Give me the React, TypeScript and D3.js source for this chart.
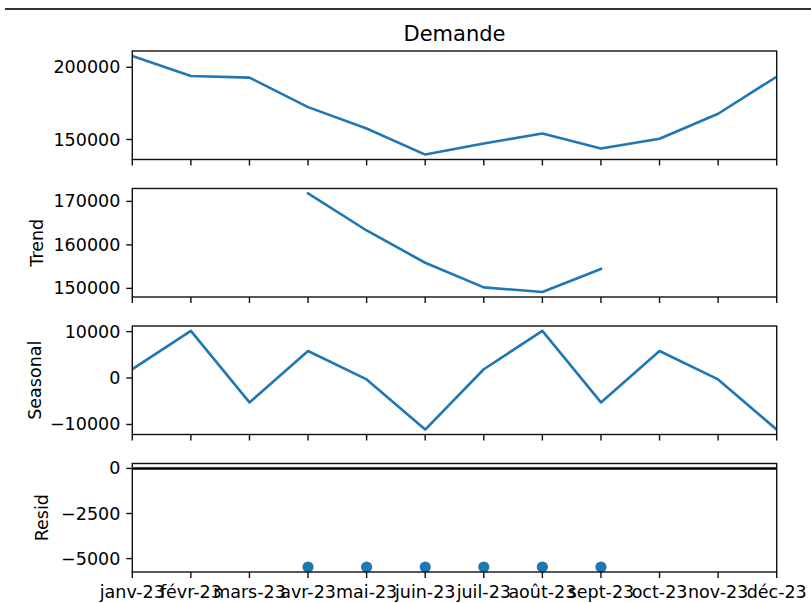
import React from "react";
import * as d3 from "d3";

const months = ["janv-23", "févr-23", "mars-23", "avr-23", "mai-23", "juin-23", "juil-23", "août-23", "sept-23", "oct-23", "nov-23", "déc-23"];
const observed = [207850, 193960, 192850, 172430, 157640, 139580, 147220, 154170, 143750, 150490, 167850, 193540];
const trend: (number | null)[] = [null, null, null, 171830, 163310, 155890, 150230, 149150, 154470, null, null, null];
const seasonal = [1900, 10150, -5250, 5830, -290, -11100, 1900, 10150, -5250, 5830, -290, -11100];
const resid: (number | null)[] = [null, null, null, -5470, -5470, -5470, -5470, -5470, -5470, null, null, null];

const observedTicks = [150000, 200000];
const trendTicks = [150000, 160000, 170000];
const seasonalTicks = [-10000, 0, 10000];
const residTicks = [-5000, -2500, 0];

const W = 811;
const H = 603;
const LEFT = 132.3;
const RIGHT = 776.7;
const TOP0 = 51;
const STEP = 137.5;
const PH = 108.5;
const FS = 17.5;
const TICK = 6;
const BLUE = "#1f77b4";
const FONT = "DejaVu Sans, sans-serif";

const fmt = (v: number) => (v < 0 ? "\u2212" + String(Math.abs(v)) : String(v));

type Panel = {
  values: (number | null)[];
  ticks: number[];
  label?: string;
  labelX?: number;
  markers?: boolean;
  includeZero?: boolean;
};

const panels: Panel[] = [
  { values: observed, ticks: observedTicks },
  { values: trend, ticks: trendTicks, label: "Trend", labelX: 37 },
  { values: seasonal, ticks: seasonalTicks, label: "Seasonal", labelX: 35 },
  { values: resid, ticks: residTicks, label: "Resid", labelX: 42, markers: true, includeZero: true },
];

export default function App() {
  const x = d3.scaleLinear().domain([0, months.length - 1]).range([LEFT, RIGHT]);

  return (
    <svg width={W} height={H} style={{ position: "absolute", left: 0, top: 0, background: "#fff" }} fontFamily={FONT}>
      <rect x={0} y={0} width={W} height={H} fill="#fff" />
      <line x1={5} x2={W} y1={9} y2={9} stroke="#333" strokeWidth={2} />
      <text x={(LEFT + RIGHT) / 2} y={41} fontSize={21} textAnchor="middle" fill="#000">
        Demande
      </text>
      {panels.map((p, i) => {
        const top = TOP0 + i * STEP;
        const bottom = top + PH;
        const vals = p.values.filter((v): v is number => v != null);
        if (p.includeZero) vals.push(0);
        const [mn, mx] = d3.extent(vals) as [number, number];
        const m = (mx - mn) * 0.05;
        const y = d3.scaleLinear().domain([mn - m, mx + m]).range([bottom, top]);
        const line = d3
          .line<number | null>()
          .defined((d) => d != null)
          .x((_, j) => x(j))
          .y((d) => y(d as number));
        return (
          <g key={i}>
            <defs>
              <clipPath id={`clip${i}`}>
                <rect x={LEFT} y={top} width={RIGHT - LEFT} height={PH} />
              </clipPath>
            </defs>
            {p.markers ? (
              <g>
                <line x1={LEFT} x2={RIGHT} y1={y(0)} y2={y(0)} stroke="#000" strokeWidth={2.6} />
                {p.values.map((v, j) =>
                  v == null ? null : <circle key={j} cx={x(j)} cy={y(v)} r={5.6} fill={BLUE} />
                )}
              </g>
            ) : (
              <path d={line(p.values) || ""} fill="none" stroke={BLUE} strokeWidth={2.6} clipPath={`url(#clip${i})`} strokeLinejoin="round" strokeLinecap="square" />
            )}
            <rect x={LEFT} y={top} width={RIGHT - LEFT} height={PH} fill="none" stroke="#111" strokeWidth={1.4} />
            {months.map((mth, j) => (
              <g key={mth}>
                <line x1={x(j)} x2={x(j)} y1={bottom} y2={bottom + TICK} stroke="#111" strokeWidth={1.4} />
                {i === panels.length - 1 && (
                  <text x={x(j)} y={bottom + TICK + 6 + 13.5} fontSize={FS} textAnchor="middle" fill="#000">
                    {mth}
                  </text>
                )}
              </g>
            ))}
            {p.ticks.map((t) => (
              <g key={t}>
                <line x1={LEFT - TICK} x2={LEFT} y1={y(t)} y2={y(t)} stroke="#111" strokeWidth={1.4} />
                <text x={LEFT - TICK - 6} y={y(t)} fontSize={FS} textAnchor="end" dominantBaseline="central" fill="#000">
                  {fmt(t)}
                </text>
              </g>
            ))}
            {p.label && (
              <text
                transform={`translate(${p.labelX},${(top + bottom) / 2}) rotate(-90)`}
                fontSize={FS}
                textAnchor="middle"
                dominantBaseline="central"
                fill="#000"
              >
                {p.label}
              </text>
            )}
          </g>
        );
      })}
    </svg>
  );
}
